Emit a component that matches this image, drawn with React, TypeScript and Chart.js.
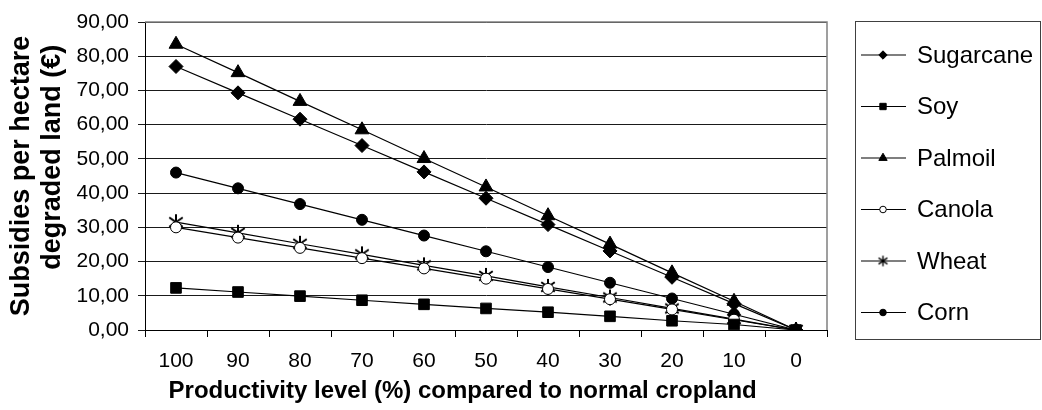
import React, { useEffect, useRef } from 'react';
import { Chart, registerables } from 'chart.js';
import { drawPoint } from 'chart.js/helpers';

Chart.register(...registerables);

const categories = ['100', '90', '80', '70', '60', '50', '40', '30', '20', '10', '0'];
const sugarcane = [77.0, 69.3, 61.6, 53.9, 46.2, 38.5, 30.8, 23.1, 15.4, 7.7, 0];
const soy = [12.3, 11.1, 9.9, 8.7, 7.5, 6.3, 5.2, 4.0, 2.7, 1.6, 0];
const palmoil = [83.5, 75.2, 66.8, 58.5, 50.1, 41.8, 33.4, 25.1, 16.7, 8.4, 0];
const canola = [30.0, 27.0, 24.0, 21.0, 18.0, 15.0, 12.0, 9.0, 6.0, 3.0, 0];
const wheat = [31.5, 28.4, 25.2, 22.1, 18.9, 15.8, 12.6, 9.5, 6.3, 3.2, 0];
const corn = [46.0, 41.4, 36.8, 32.2, 27.6, 23.0, 18.4, 13.8, 9.2, 4.6, 0];
const seriesNames = ['Sugarcane', 'Soy', 'Palmoil', 'Canola', 'Wheat', 'Corn'];
const yTickLabels = ['0,00', '10,00', '20,00', '30,00', '40,00', '50,00', '60,00', '70,00', '80,00', '90,00'];
const xTitle = 'Productivity level (%) compared to normal cropland';
const yTitle = ['Subsidies per hectare', 'degraded land (€)'];

const FONT = '"Liberation Sans", Arial, Helvetica, sans-serif';

// Excel-style asterisk marker (vertical bar + X), used as an image point style
function makeAsterisk(r: number, lw: number) {
  const size = Math.ceil(r * 2 + 4);
  const c = document.createElement('canvas');
  c.width = size;
  c.height = size;
  const g = c.getContext('2d')!;
  const m = size / 2;
  g.strokeStyle = '#000';
  g.lineWidth = lw;
  g.lineCap = 'square';
  g.beginPath();
  g.moveTo(m, m - r);
  g.lineTo(m, m + r);
  const d = r * 0.85;
  g.moveTo(m - d, m - d * 0.7);
  g.lineTo(m + d, m + d * 0.7);
  g.moveTo(m - d, m + d * 0.7);
  g.lineTo(m + d, m - d * 0.7);
  g.stroke();
  return c;
}

const plotBorder = {
  id: 'plotBorder',
  beforeDatasetsDraw(chart: any) {
    const { ctx, chartArea } = chart;
    ctx.save();
    ctx.strokeStyle = '#808080';
    ctx.lineWidth = 1.5;
    ctx.beginPath();
    ctx.moveTo(chartArea.left, chartArea.top);
    ctx.lineTo(chartArea.right, chartArea.top);
    ctx.lineTo(chartArea.right, chartArea.bottom);
    ctx.stroke();
    ctx.restore();
  },
};

const boxLegend = {
  id: 'boxLegend',
  afterDraw(chart: any) {
    const { ctx } = chart;
    ctx.save();
    ctx.strokeStyle = '#404040';
    ctx.lineWidth = 1;
    ctx.strokeRect(855.5, 21.5, 185, 318);
    chart.data.datasets.forEach((ds: any, i: number) => {
      const y = 55 + i * 51.5;
      ctx.beginPath();
      ctx.strokeStyle = '#000';
      ctx.lineWidth = 1.2;
      ctx.moveTo(861, y);
      ctx.lineTo(906, y);
      ctx.stroke();
      ctx.fillStyle = ds.pointBackgroundColor;
      ctx.strokeStyle = '#000';
      ctx.lineWidth = 1;
      const style = ds.legendStyle || ds.pointStyle;
      drawPoint(ctx, { pointStyle: style, radius: ds.pointRadius * 0.6, rotation: 0, borderWidth: 1 }, 883, y);
      ctx.fillStyle = '#000';
      ctx.font = `24px ${FONT}`;
      ctx.textBaseline = 'middle';
      ctx.textAlign = 'left';
      ctx.fillText(ds.label, 917, y + 1);
    });
    ctx.restore();
  },
};

export default function App() {
  const ref = useRef<HTMLCanvasElement | null>(null);
  useEffect(() => {
    document.body.style.margin = '0';
    if (!ref.current) return;
    const asterisk = makeAsterisk(7, 2);
    const asteriskSmall = makeAsterisk(4.5, 1.4);
    const mk = (label: string, data: number[], style: any, radius: number, fill = '#000', legendStyle: any = null) => ({
      label,
      data,
      borderColor: '#000',
      borderWidth: 1.2,
      pointStyle: style,
      legendStyle,
      pointRadius: radius,
      pointHoverRadius: radius,
      pointBackgroundColor: fill,
      pointBorderColor: '#000',
      pointBorderWidth: 1,
      fill: false,
      tension: 0,
    });
    const chart = new Chart(ref.current, {
      type: 'line',
      data: {
        labels: categories,
        datasets: [
          mk(seriesNames[0], sugarcane, 'rectRot', 7),
          mk(seriesNames[1], soy, 'rect', 7.5),
          mk(seriesNames[2], palmoil, 'triangle', 8),
          mk(seriesNames[3], canola, 'circle', 5.5, '#fff'),
          mk(seriesNames[4], wheat, asterisk, 7.5, '#000', asteriskSmall),
          mk(seriesNames[5], corn, 'circle', 5.5),
        ] as any,
      },
      options: {
        animation: false,
        responsive: true,
        maintainAspectRatio: false,
        layout: { padding: { left: 0, top: 22, right: 215, bottom: 0 } },
        plugins: { legend: { display: false }, tooltip: { enabled: false }, title: { display: false } },
        scales: {
          x: {
            type: 'category',
            offset: true,
            afterFit: (s: any) => { s.height = 80; },
            grid: { display: true, offset: true, drawOnChartArea: false, drawTicks: true, tickLength: 7, color: '#000', lineWidth: 1 },
            border: { display: true, color: '#000', width: 1 },
            ticks: { color: '#000', font: { family: FONT, size: 21 }, padding: 12, maxRotation: 0, autoSkip: false },
            title: {
              display: true,
              text: xTitle + '       ',
              color: '#000',
              font: { family: FONT, size: 24, weight: 'bold', lineHeight: 1.2 },
              padding: { top: 0, bottom: 4 },
            },
          },
          y: {
            min: 0,
            max: 90,
            afterFit: (s: any) => { s.width = 145; },
            ticks: {
              stepSize: 10,
              color: '#000',
              font: { family: FONT, size: 21 },
              padding: 9,
              callback: (_v: any, i: number) => yTickLabels[i],
            },
            grid: { color: '#1a1a1a', lineWidth: 1, drawTicks: true, tickLength: 7 },
            border: { display: true, color: '#000', width: 1 },
            title: {
              display: true,
              text: [yTitle[0], '     ' + yTitle[1]],
              color: '#000',
              font: { family: FONT, size: 27, weight: 'bold', lineHeight: 1.15 },
              padding: { top: 6, bottom: 0 },
            },
          },
        },
      },
      plugins: [plotBorder, boxLegend],
    });
    return () => chart.destroy();
  }, []);
  return (
    <div style={{ width: 1042, height: 410, position: 'relative' }}>
      <canvas ref={ref} />
    </div>
  );
}
